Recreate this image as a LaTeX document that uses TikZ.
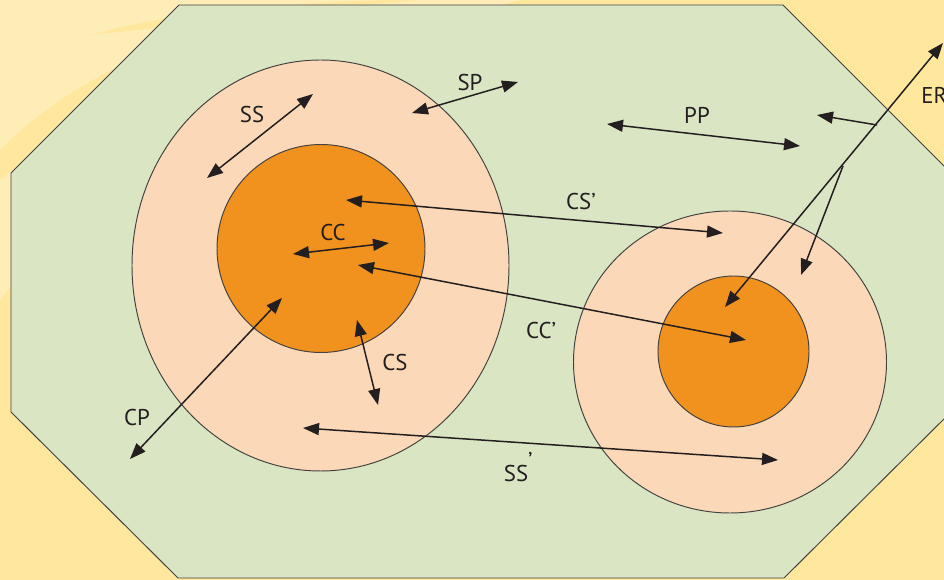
\documentclass[tikz,border=0pt]{standalone}
\usepackage{fontspec}
\setmainfont{PT Sans}
\usetikzlibrary{arrows.meta}

\definecolor{bgyellow}{HTML}{FFE79E}
\definecolor{bglight}{HTML}{FFEDB8}
\definecolor{regiongreen}{HTML}{DAE5C3}
\definecolor{shell}{HTML}{FBD9B8}
\definecolor{core}{HTML}{F0921D}
\definecolor{ink}{HTML}{231F20}

\begin{document}
\begin{tikzpicture}[x=0.02cm,y=-0.02cm,>={Triangle[length=3.2mm,width=2.4mm]},
    lbl/.style={text=ink,font=\fontsize{13}{15}\selectfont,inner sep=0pt},
    link/.style={<->,draw=ink,line width=0.85pt},
    ray/.style={->,draw=ink,line width=0.85pt},
    rim/.style={draw=ink!85,line width=0.55pt}]
  \useasboundingbox (0,0) rectangle (944,580);
  % backdrop with light swirls
  \fill[bgyellow] (0,0) rectangle (944,580);
  \fill[bglight] (0,0) -- (0,300) .. controls (60,220) and (220,80) .. (520,0) -- cycle;
  \fill[bgyellow] (0,150) .. controls (80,70) and (200,20) .. (330,10)
    .. controls (220,40) and (110,90) .. (0,180) -- cycle;
  \fill[bgyellow] (90,35) .. controls (160,15) and (260,5) .. (380,0)
    -- (420,0) .. controls (300,10) and (190,25) .. (90,35) -- cycle;

  % the region
  \draw[rim,fill=regiongreen] (179,5) -- (783,5) -- (951,173) -- (951,412)
    -- (784,578) -- (178,578) -- (11,412) -- (11,173) -- cycle;

  % left cell and right cell
  \draw[rim,fill=shell] (320.5,265.5) ellipse [x radius=188.5,y radius=205.5];
  \draw[rim,fill=core] (321,248.5) circle [radius=104];
  \draw[rim,fill=shell] (730,362) ellipse [x radius=156.5,y radius=151];
  \draw[rim,fill=core] (733.5,351.5) circle [radius=75.5];

  % arrow ends
  \coordinate (ss-in) at (207,178);   \coordinate (ss-out) at (313,94);
  \coordinate (sp-in) at (412,113);   \coordinate (sp-out) at (518,82);
  \coordinate (pp-a) at (607,124);    \coordinate (pp-b) at (800,146);
  \coordinate (csp-a) at (346,200);   \coordinate (csp-b) at (723,233);
  \coordinate (cc-a) at (293,254);    \coordinate (cc-b) at (389,243);
  \coordinate (ccp-a) at (358,265);   \coordinate (ccp-b) at (746,340);
  \coordinate (cs-a) at (357,320);    \coordinate (cs-b) at (378,405);
  \coordinate (cp-a) at (282,298);    \coordinate (cp-b) at (130,459);
  \coordinate (ssp-a) at (303,428);   \coordinate (ssp-b) at (778,460);
  \coordinate (er-low) at (725,307);  \coordinate (er-tip) at (943,43);
  \coordinate (er-fork) at (843,166); \coordinate (er-shell) at (801,275);
  \coordinate (er-back) at (877,125); \coordinate (er-free) at (817,115);

  % connectors
  \foreach \a/\b in {ss-in/ss-out,sp-in/sp-out,pp-a/pp-b,csp-a/csp-b,cc-a/cc-b,
      ccp-a/ccp-b,cs-a/cs-b,cp-a/cp-b,ssp-a/ssp-b,er-low/er-tip}
    \draw[link] (\a) -- (\b);
  \draw[ray] (er-fork) -- (er-shell);
  \draw[ray] (er-back) -- (er-free);

  % labels
  \node[lbl] (ss) at (252,115) {SS};
  \node[lbl] (sp) at (470,83) {SP};
  \node[lbl] (pp) at (697,115) {PP};
  \node[lbl,anchor=west] (er) at (921,95) {ER};
  \node[lbl] (csp) at (581,202) {CS’};
  \node[lbl] (cc) at (333,233) {CC};
  \node[lbl] (ccp) at (541,331) {CC’};
  \node[lbl] (cs) at (395,363) {CS};
  \node[lbl] (cp) at (137,418) {CP};
  \node[lbl] (ssp) at (516,467) {SS\rlap{\raisebox{7pt}{’}}};
\end{tikzpicture}
\end{document}
